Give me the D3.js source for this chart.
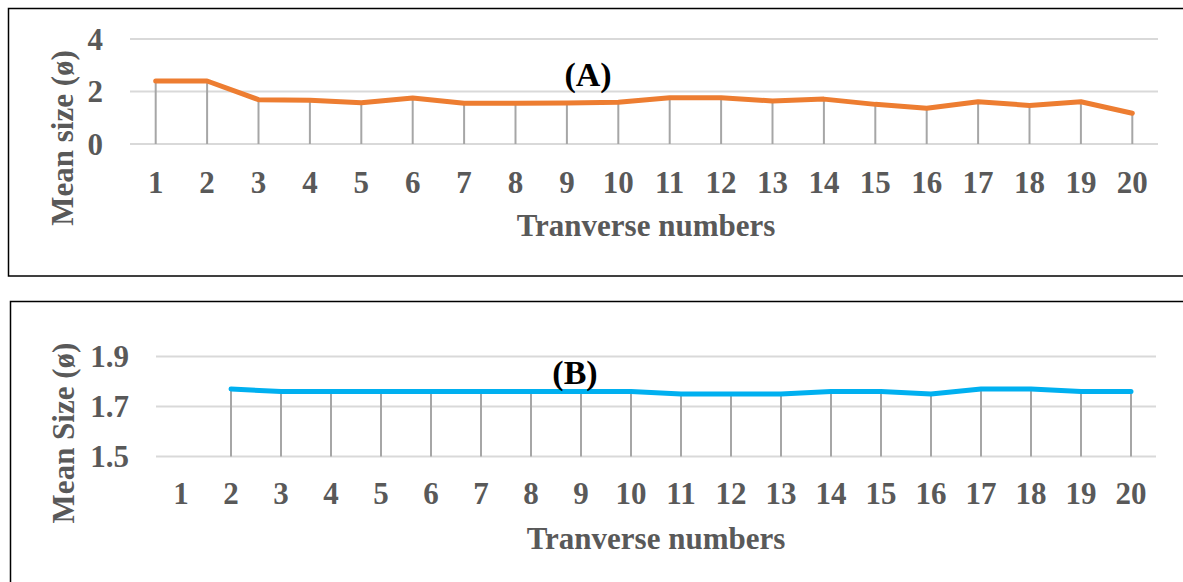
<!DOCTYPE html>
<html>
<head>
<meta charset="utf-8">
<style>
    body { margin: 0; background: white; }
    svg text { font-family: "Liberation Serif", "Times New Roman", serif; font-weight: bold; }
</style>
<script src="https://cdn.jsdelivr.net/npm/d3@7"></script>
</head>
<body>
<div id="chart"></div>
<script>
    // data
    var categories = ['1','2','3','4','5','6','7','8','9','10','11','12','13','14','15','16','17','18','19','20'];
    var sizeA = [2.4, 2.4, 1.69, 1.67, 1.57, 1.75, 1.55, 1.55, 1.56, 1.59, 1.76, 1.76, 1.64, 1.71, 1.51, 1.36, 1.61, 1.47, 1.61, 1.17];
    var sizeB = [null, 1.77, 1.76, 1.76, 1.76, 1.76, 1.76, 1.76, 1.76, 1.76, 1.75, 1.75, 1.75, 1.76, 1.76, 1.75, 1.77, 1.77, 1.76, 1.76];
    var ticksA = [0, 2, 4];
    var ticksB = [1.5, 1.7, 1.9];

    var svg = d3.select('#chart')
            .append('svg')
            .attr('width', 1183)
            .attr('height', 582);

    // panel frames
    svg.append('rect')
            .attr('x', 8.5).attr('y', 8.5)
            .attr('width', 1190).attr('height', 267.5)
            .attr('fill', 'none').attr('stroke', '#000').attr('stroke-width', 1.5);
    svg.append('rect')
            .attr('x', 10.5).attr('y', 301.5)
            .attr('width', 1190).attr('height', 300)
            .attr('fill', 'none').attr('stroke', '#000').attr('stroke-width', 1.5);

    function drawPanel(opt) {
        var g = svg.append('g');

        var x = d3.scaleBand()
                .domain(categories)
                .range([opt.left, opt.right])
                .padding(0);

        var y = d3.scaleLinear()
                .domain(d3.extent(opt.ticks))
                .range([opt.bottom, opt.top]);

        // gridlines
        g.selectAll('line.grid')
                .data(opt.ticks)
            .enter().append('line')
                .attr('x1', opt.left).attr('x2', opt.right)
                .attr('y1', function(d) { return y(d) })
                .attr('y2', function(d) { return y(d) })
                .attr('stroke', '#d9d9d9')
                .attr('stroke-width', 2);

        // y tick labels
        g.selectAll('text.ytick')
                .data(opt.ticks)
            .enter().append('text')
                .attr('x', opt.tickX)
                .attr('y', function(d) { return y(d) })
                .attr('dy', '0.35em')
                .attr('text-anchor', 'end')
                .attr('fill', '#595959')
                .attr('font-size', 31)
                .text(function(d) { return opt.fmt(d) });

        // x tick labels
        g.selectAll('text.xtick')
                .data(categories)
            .enter().append('text')
                .attr('x', function(d) { return x(d) + x.bandwidth() / 2 })
                .attr('y', opt.xTickY)
                .attr('dy', '0.35em')
                .attr('text-anchor', 'middle')
                .attr('fill', '#595959')
                .attr('font-size', 31)
                .text(function(d) { return d });

        var pts = categories.map(function(c, i) { return { c: c, v: opt.values[i] } })
                .filter(function(d) { return d.v != null });

        // drop lines
        g.selectAll('line.drop')
                .data(pts)
            .enter().append('line')
                .attr('x1', function(d) { return x(d.c) + x.bandwidth() / 2 })
                .attr('x2', function(d) { return x(d.c) + x.bandwidth() / 2 })
                .attr('y1', function(d) { return y(d.v) })
                .attr('y2', opt.bottom)
                .attr('stroke', '#a6a6a6')
                .attr('stroke-width', 2);

        var line = d3.line()
                .x(function(d) { return x(d.c) + x.bandwidth() / 2 })
                .y(function(d) { return y(d.v) });

        g.append('path')
                .datum(pts)
                .attr('d', line)
                .attr('fill', 'none')
                .attr('stroke', opt.color)
                .attr('stroke-width', 5)
                .attr('stroke-linecap', 'round')
                .attr('stroke-linejoin', 'round');

        // axis titles
        g.append('text')
                .attr('transform', 'translate(' + opt.yTitleX + ',' + opt.yTitleY + ') rotate(-90)')
                .attr('dy', '0.35em')
                .attr('text-anchor', 'middle')
                .attr('fill', '#595959')
                .attr('font-size', 31)
                .text(opt.yTitle);

        g.append('text')
                .attr('x', opt.xTitleX)
                .attr('y', opt.xTitleY)
                .attr('dy', '0.35em')
                .attr('text-anchor', 'middle')
                .attr('fill', '#595959')
                .attr('font-size', 31)
                .text('Tranverse numbers');

        g.append('text')
                .attr('x', opt.labelX)
                .attr('y', opt.labelY)
                .attr('dy', '0.35em')
                .attr('text-anchor', 'middle')
                .attr('fill', '#000')
                .attr('font-size', 34)
                .text(opt.label);
    }

    drawPanel({
        values: sizeA, ticks: ticksA, color: '#ed7d31',
        left: 130, right: 1158, top: 39, bottom: 144,
        tickX: 103, xTickY: 182, fmt: d3.format('d'),
        yTitle: 'Mean size (\u00f8)', yTitleX: 62, yTitleY: 138,
        xTitleX: 646, xTitleY: 225,
        label: '(A)', labelX: 588, labelY: 74
    });

    drawPanel({
        values: sizeB, ticks: ticksB, color: '#00b0f0',
        left: 156, right: 1156, top: 356.5, bottom: 456.5,
        tickX: 129, xTickY: 493, fmt: d3.format('.1f'),
        yTitle: 'Mean Size (\u00f8)', yTitleX: 63, yTitleY: 433,
        xTitleX: 656, xTitleY: 538,
        label: '(B)', labelX: 575, labelY: 372
    });
</script>
</body>
</html>
